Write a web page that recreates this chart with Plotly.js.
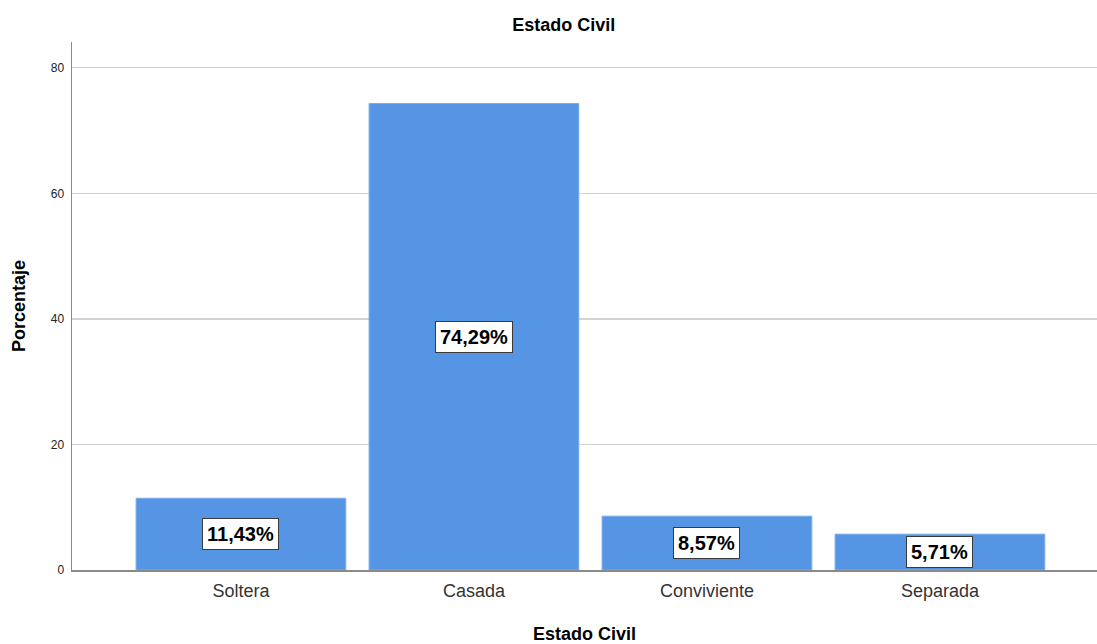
<!DOCTYPE html>
<html>
<head>
<meta charset="utf-8">
<script src="https://cdn.plot.ly/plotly-3.0.1.min.js"></script>
<style>html,body{margin:0;padding:0;background:#fff;}#chart{width:1097px;height:644px;}</style>
</head>
<body>
<div id="chart"></div>
<script>
const categories = ["Soltera", "Casada", "Conviviente", "Separada"];
const percentages = [11.43, 74.29, 8.57, 5.71];
const labels = ["11,43%", "74,29%", "8,57%", "5,71%"];
const yTicks = [0, 20, 40, 60, 80];

const FONT = "Liberation Sans, Arial, sans-serif";

const trace = {
  type: "bar",
  x: categories,
  y: percentages,
  width: 0.9,
  marker: {color: "rgb(85,149,228)", line: {color: "rgb(120,172,236)", width: 1}},
  hoverinfo: "none"
};

const annotations = categories.map((c, i) => ({
  x: c, y: percentages[i] / 2, xref: "x", yref: "y",
  text: "<b>" + labels[i] + "</b>", showarrow: false,
  font: {family: FONT, size: 20, color: "#000"},
  bgcolor: "#ffffff", bordercolor: "#3a3a3a", borderwidth: 1, borderpad: 4
}));

const layout = {
  width: 1097, height: 644,
  margin: {l: 72, r: 0, t: 42, b: 74},
  paper_bgcolor: "#fff", plot_bgcolor: "#fff",
  showlegend: false,
  font: {family: FONT, color: "#333"},
  title: {text: "<b>Estado Civil</b>", x: 0.514, xanchor: "center", y: 0.962, yanchor: "middle",
          font: {family: FONT, size: 18, color: "#000"}},
  xaxis: {
    range: [-0.725, 3.674],
    showgrid: false, zeroline: false,
    showline: true, linecolor: "#8a8a8a", linewidth: 1.5,
    ticks: "", ticklabelstandoff: 4, tickfont: {family: FONT, size: 18, color: "#333"},
    title: {text: "<b>Estado Civil</b>", standoff: 30, font: {family: FONT, size: 18, color: "#000"}},
    fixedrange: true
  },
  yaxis: {
    range: [0, 84.1],
    tickvals: yTicks, ticktext: yTicks.map(String),
    showgrid: true, gridcolor: "#d3d3d3", gridwidth: 1.5,
    zeroline: false,
    showline: true, linecolor: "#8a8a8a", linewidth: 1.5,
    ticks: "", ticklabelstandoff: 4,
    tickfont: {family: FONT, size: 12, color: "#222"},
    title: {text: "<b>Porcentaje</b>", standoff: 20, font: {family: FONT, size: 18, color: "#000"}},
    fixedrange: true
  },
  annotations: annotations
};

Plotly.newPlot("chart", [trace], layout, {displayModeBar: false, staticPlot: true});
</script>
</body>
</html>
